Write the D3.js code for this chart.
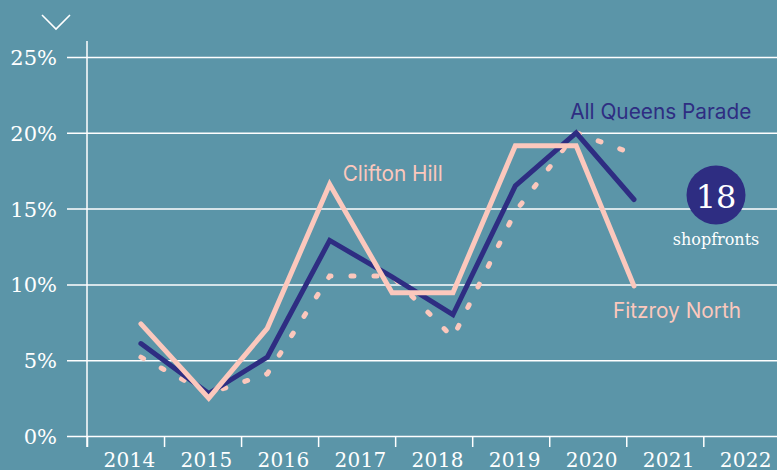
<!DOCTYPE html>
<html>
<head>
<meta charset="utf-8">
<script src="https://cdn.jsdelivr.net/npm/d3@7"></script>
<style>
  html, body { margin: 0; padding: 0; background: #5b95a8; overflow: hidden; }
  .tick text { font-family: "DejaVu Serif", serif; fill: #fff; }
  .seriesLabel { font-family: "Inter", "Lato", sans-serif; font-size: 20.8px; }
</style>
</head>
<body>
<div id="chart"></div>
<script>
// Survey dates (fractional years) and vacancy rates in %
var surveyDates = [2014.70, 2015.58, 2016.34, 2017.15, 2017.96, 2018.75, 2019.56, 2020.35, 2021.10];
var queensParade = [6.1, 2.8, 5.2, 12.9, 10.5, 8.0, 16.5, 20.0, 15.6];
var cliftonHill = [7.4, 2.5, 7.1, 16.6, 9.45, 9.45, 19.15, 19.15, 9.9];
var fitzroyNorth = [5.2, 2.8, 4.1, 10.55, 10.55, 6.5, 14.8, 20.0, 18.6];
var yearTicks = [2014, 2015, 2016, 2017, 2018, 2019, 2020, 2021, 2022];
var pctTicks = [0, 5, 10, 15, 20, 25];
var shopfronts = 18;

var svgWidth = 777;
var svgHeight = 470;

var navy = "#2e2d82";
var pink = "#fcc8bd";

var svg = d3.select("#chart")
  .append("svg")
  .attr("width", svgWidth)
  .attr("height", svgHeight);

svg.append("rect")
  .attr("width", svgWidth)
  .attr("height", svgHeight)
  .attr("fill", "#5b95a8");

// scales
var xScale = d3.scaleLinear()
  .domain([2014, 2022])
  .range([87, 703.3]);

var yScale = d3.scaleLinear()
  .domain([0, 25])
  .range([436, 57]);

// little chevron at the top
svg.append("path")
  .attr("d", "M42,15 L56,29 L70,15")
  .attr("fill", "none")
  .attr("stroke", "#fff")
  .attr("stroke-width", 1.6);

// y axis with gridlines
var leftAxis = d3.axisLeft(yScale)
  .tickValues(pctTicks)
  .tickSizeInner(-(svgWidth - 67))
  .tickSizeOuter(0)
  .tickPadding(10)
  .tickFormat(d => d + "%");

var yAxisGroup = svg.append("g")
  .attr("transform", "translate(67,0)")
  .call(leftAxis);
yAxisGroup.select(".domain").remove();
yAxisGroup.selectAll(".tick line")
  .attr("stroke", "#fff")
  .attr("stroke-width", 1.5);
yAxisGroup.selectAll(".tick text")
  .attr("font-size", 21)
  .attr("dy", "0.36em");

// vertical axis line
svg.append("line")
  .attr("x1", xScale(2014))
  .attr("x2", xScale(2014))
  .attr("y1", 41)
  .attr("y2", yScale(0) + 11)
  .attr("stroke", "#fff")
  .attr("stroke-width", 1.5);

// x axis ticks, labels sit between ticks
var bottomAxis = d3.axisBottom(xScale)
  .tickValues(yearTicks)
  .tickSize(11)
  .tickPadding(8)
  .tickFormat(d3.format("d"));

var xAxisGroup = svg.append("g")
  .attr("transform", `translate(0, ${yScale(0)})`)
  .call(bottomAxis);
xAxisGroup.select(".domain").remove();
xAxisGroup.selectAll(".tick line")
  .attr("stroke", "#fff")
  .attr("stroke-width", 1.5);
xAxisGroup.selectAll(".tick text")
  .attr("font-size", 20)
  .attr("letter-spacing", 0.3)
  .attr("x", 42)
  .attr("y", 17);

// lines
function seriesLine(values) {
  return d3.line()
    .x((d, i) => xScale(surveyDates[i]))
    .y(d => yScale(d))(values);
}

svg.append("path")
  .attr("d", seriesLine(fitzroyNorth))
  .attr("fill", "none")
  .attr("stroke", pink)
  .attr("stroke-width", 5)
  .attr("stroke-linecap", "round")
  .attr("stroke-dasharray", "3,20");

svg.append("path")
  .attr("d", seriesLine(queensParade))
  .attr("fill", "none")
  .attr("stroke", navy)
  .attr("stroke-width", 5)
  .attr("stroke-linecap", "round")
  .attr("stroke-linejoin", "miter");

svg.append("path")
  .attr("d", seriesLine(cliftonHill))
  .attr("fill", "none")
  .attr("stroke", pink)
  .attr("stroke-width", 5)
  .attr("stroke-linecap", "round")
  .attr("stroke-linejoin", "miter");

// series labels
svg.append("text")
  .classed("seriesLabel", true)
  .attr("x", xScale(surveyDates[7]) - 6)
  .attr("y", yScale(queensParade[7]) - 14)
  .attr("fill", navy)
  .text("All Queens Parade");

svg.append("text")
  .classed("seriesLabel", true)
  .attr("x", xScale(surveyDates[3]) + 13)
  .attr("y", yScale(cliftonHill[3]) - 3)
  .attr("fill", pink)
  .text("Clifton Hill");

svg.append("text")
  .classed("seriesLabel", true)
  .attr("x", xScale(surveyDates[8]) - 21)
  .attr("y", yScale(cliftonHill[8]) + 32)
  .attr("fill", pink)
  .text("Fitzroy North");

// shopfront count badge
var badge = svg.append("g")
  .attr("transform", "translate(716,195)");

badge.append("circle")
  .attr("r", 29.5)
  .attr("fill", navy);

badge.append("text")
  .attr("text-anchor", "middle")
  .attr("y", 13)
  .attr("font-family", "DejaVu Serif, serif")
  .attr("font-size", 32)
  .attr("fill", "#fff")
  .text(shopfronts);

badge.append("text")
  .attr("text-anchor", "middle")
  .attr("y", 50)
  .attr("font-family", "DejaVu Serif, serif")
  .attr("font-size", 16)
  .attr("fill", "#fff")
  .text("shopfronts");
</script>
</body>
</html>
